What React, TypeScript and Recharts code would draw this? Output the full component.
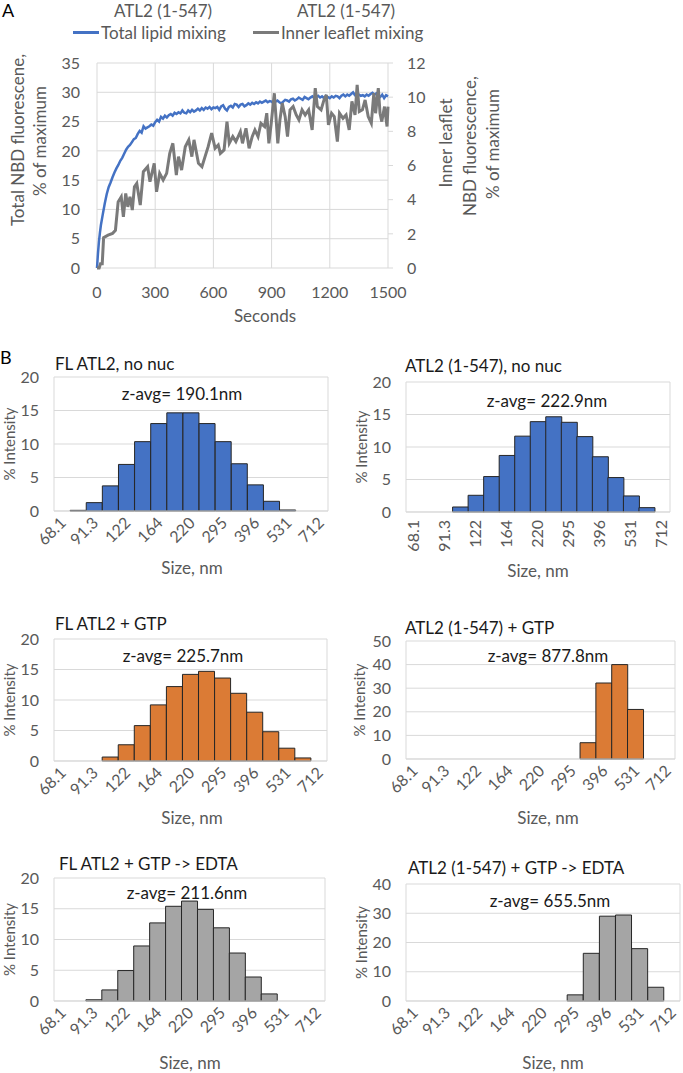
import React from "react";
import {
  LineChart,
  Line,
  BarChart,
  Bar,
  XAxis,
  YAxis,
  CartesianGrid,
  Legend,
  Label,
} from "recharts";

// ---- Panel A: lipid mixing kinetics ----
const totalSeconds = [
  0, 5, 10, 15, 20,
  30, 40, 50, 60, 70, 80, 90, 100,
  110, 120, 130, 140, 150, 160, 170, 180, 190, 200,
  210, 220, 230, 240, 250, 260, 270, 280, 290, 300,
  310, 320, 330, 340, 350, 360, 370, 380, 390, 400,
  410, 420, 430, 440, 450, 460, 470, 480, 490, 500,
  510, 520, 530, 540, 550, 560, 570, 580, 590, 600,
  610, 620, 630, 640, 650, 660, 670, 680, 690, 700,
  710, 720, 730, 740, 750, 760, 770, 780, 790, 800,
  810, 820, 830, 840, 850, 860, 870, 880, 890, 900,
  910, 920, 930, 940, 950, 960, 970, 980, 990, 1000,
  1010, 1020, 1030, 1040, 1050, 1060, 1070, 1080, 1090, 1100,
  1110, 1120, 1130, 1140, 1150, 1160, 1170, 1180, 1190, 1200,
  1210, 1220, 1230, 1240, 1250, 1260, 1270, 1280, 1290, 1300,
  1310, 1320, 1330, 1340, 1350, 1360, 1370, 1380, 1390, 1400,
  1410, 1420, 1430, 1440, 1450, 1460, 1470, 1480, 1490, 1500,
];
const totalPct = [
  0, 2.5, 4.5, 6, 7.3,
  9.2, 11, 12.6, 13.8, 14.6, 15.5, 16.3, 17.0,
  17.6, 18.3, 18.8, 19.5, 20.2, 20.7, 21.0, 21.5, 22.0, 22.2,
  22.9, 23.4, 23.1, 24.2, 23.8, 24.0, 24.2, 24.5, 24.3, 24.9,
  25.3, 25.0, 25.8, 25.5, 26.0, 25.7, 26.1, 26.3, 26.0, 26.5,
  26.3, 26.6, 26.4, 26.9, 26.5, 26.4, 26.9, 26.6, 27.0, 26.7,
  26.9, 27.2, 26.9, 27.3, 27.0, 27.4, 27.2, 27.5, 27.1, 27.4,
  27.3, 27.5, 27.0, 27.6, 27.8, 27.2, 26.9, 27.5, 27.7, 27.4,
  28.0, 27.9, 27.5, 27.9, 28.0, 27.6, 27.8, 28.1, 27.9, 28.2,
  28.0, 28.3, 28.1, 28.4, 28.2, 28.4, 28.6, 28.3, 28.5, 28.4,
  28.1, 28.4, 28.6, 28.3, 28.1, 28.4, 28.7, 28.6, 28.4, 28.8,
  28.9, 28.6, 28.8, 29.1, 28.9, 28.7, 29.2, 29.0, 28.8, 29.1,
  29.3, 29.0, 29.2, 29.4, 29.1, 29.3, 29.0, 29.4, 29.2, 29.0,
  29.3, 29.1, 29.4, 29.3, 29.0, 29.4, 29.6, 29.3, 29.6, 29.4,
  29.7, 30.0, 29.5, 29.3, 29.6, 29.4, 29.5, 29.3, 29.6, 29.4,
  29.7, 29.9, 29.6, 29.8, 29.4, 29.2, 29.6, 29.0, 29.5, 29.3,
];

const innerSeconds = [
  0, 11, 18, 27, 34, 57, 80, 95, 109, 125,
  136, 148, 159, 170, 182, 193, 205, 223, 239, 261,
  273, 295, 307, 323, 341, 359, 375, 391, 409, 420,
  436, 455, 473, 489, 500, 523, 541, 557, 573, 591,
  609, 625, 636, 655, 670, 682, 700, 716, 739, 750,
  768, 784, 800, 814, 830, 845, 864, 875, 886, 898,
  914, 932, 943, 955, 970, 982, 995, 1011, 1027, 1041,
  1057, 1073, 1091, 1109, 1125, 1136, 1155, 1170, 1182, 1193,
  1209, 1223, 1239, 1250, 1268, 1284, 1300, 1314, 1330, 1341,
  1352, 1368, 1382, 1398, 1414, 1427, 1436, 1450, 1459, 1468,
  1482, 1495, 1500,
];
const innerPct = [
  0, 0, 0.25, 0.25, 1.78, 1.92, 2.02, 2.21, 3.87, 4.17,
  2.99, 4.36, 3.58, 4.17, 3.39, 4.76, 4.95, 3.68, 5.64, 5.93,
  5.05, 6.13, 4.46, 5.54, 5.15, 5.54, 6.71, 7.3, 5.44, 6.52,
  5.73, 7.1, 7.5, 6.52, 7.5, 6.13, 5.93, 6.52, 7.1, 7.89,
  7.01, 7.2, 6.71, 6.91, 8.57, 7.3, 7.69, 7.4, 7.98, 7.3,
  8.18, 7.01, 7.69, 8.08, 7.69, 8.47, 8.28, 9.06, 7.3, 8.47,
  10.23, 7.3, 8.67, 9.65, 8.86, 7.69, 9.26, 9.45, 8.96, 8.67,
  9.26, 8.96, 9.26, 8.08, 10.53, 9.45, 9.26, 9.84, 10.14, 8.38,
  9.06, 8.86, 7.4, 9.06, 8.76, 8.96, 8.08, 9.75, 8.96, 10.72,
  9.16, 9.26, 9.84, 8.86, 8.47, 10.23, 9.06, 10.53, 9.06, 8.57,
  9.45, 8.28, 9.45,
];

const secondTicks = [0, 300, 600, 900, 1200, 1500];
const totalTicks = [0, 5, 10, 15, 20, 25, 30, 35];
const innerTicks = [0, 2, 4, 6, 8, 10, 12];
const seriesOrder = ["Total lipid mixing", "Inner leaflet mixing"];

// ---- Panel B: DLS size distributions ----
const sizeBins = [
  "68.1", "78.8", "91.3", "106", "122", "142", "164", "190", "220",
  "255", "295", "342", "396", "459", "531", "615", "712",
];
const flNoNuc = [0, 0.1, 1.25, 3.75, 6.95, 10.35, 13.05, 14.65, 14.65, 13.05, 10.35, 7.05, 3.9, 1.45, 0.15, 0, 0];
const truncNoNuc = [0, 0, 0, 0.77, 2.57, 5.45, 8.7, 11.67, 13.9, 14.65, 13.8, 11.6, 8.5, 5.3, 2.47, 0.67, 0];
const flGtp = [0, 0, 0, 0.65, 2.66, 5.8, 9.2, 12.2, 14.2, 14.7, 13.6, 11.1, 8.0, 4.8, 2.1, 0.5, 0];
const truncGtp = [0, 0, 0, 0, 0, 0, 0, 0, 0, 0, 0, 6.9, 32.2, 40, 21, 0, 0];
const flEdta = [0, 0, 0.2, 1.8, 4.95, 8.95, 12.7, 15.4, 16.25, 14.9, 11.9, 7.8, 3.9, 1.15, 0, 0, 0];
const truncEdta = [0, 0, 0, 0, 0, 0, 0, 0, 0, 0, 2.1, 16.3, 29, 29.4, 17.9, 4.7, 0];

const histTitles = [
  "FL ATL2, no nuc",
  "ATL2 (1-547), no nuc",
  "FL ATL2 + GTP",
  "ATL2 (1-547) + GTP",
  "FL ATL2 + GTP -> EDTA",
  "ATL2 (1-547) + GTP -> EDTA",
];
const zAverages = ["190.1", "222.9", "225.7", "877.8", "211.6", "655.5"];

const BLUE = "#4472C4";
const ORANGE = "#DB7B35";
const GRAY = "#A5A5A5";
const TICK = "#595959";
const GRID = "#D9D9D9";

// page-coordinate layout of each histogram
const panels = [
  { values: flNoNuc, color: BLUE, yMax: 20, ticks: [0, 5, 10, 15, 20], x0: 0, w: 340, top: 340, h: 240, pl: 54, pr: 328, pt: 377, pb: 511, title: [55, 363], z: [182, 393], size: [192, 567], yt: 9, angle: -45 },
  { values: truncNoNuc, color: BLUE, yMax: 20, ticks: [0, 5, 10, 15, 20], x0: 340, w: 343, top: 340, h: 240, pl: 406, pr: 670, pt: 382, pb: 512, title: [405, 365], z: [547, 400], size: [538, 570], yt: 361, angle: -90 },
  { values: flGtp, color: ORANGE, yMax: 20, ticks: [0, 5, 10, 15, 20], x0: 0, w: 340, top: 590, h: 240, pl: 54, pr: 327, pt: 639, pb: 761, title: [55, 623], z: [183, 655], size: [192, 817], yt: 9, angle: -45 },
  { values: truncGtp, color: ORANGE, yMax: 50, ticks: [0, 10, 20, 30, 40, 50], x0: 340, w: 343, top: 590, h: 240, pl: 406, pr: 675, pt: 641, pb: 759, title: [405, 627], z: [548, 655], size: [548, 817], yt: 359, angle: -45 },
  { values: flEdta, color: GRAY, yMax: 20, ticks: [0, 5, 10, 15, 20], x0: 0, w: 340, top: 830, h: 243, pl: 54, pr: 325, pt: 878, pb: 1001, title: [59, 863], z: [187, 892], size: [190, 1062], yt: 9, angle: -45 },
  { values: truncEdta, color: GRAY, yMax: 40, ticks: [0, 10, 20, 30, 40], x0: 340, w: 343, top: 830, h: 243, pl: 406, pr: 680, pt: 884, pb: 1001, title: [408, 867], z: [550, 900], size: [553, 1062], yt: 361, angle: -45 },
];

const FONT = "Lato, 'Open Sans', sans-serif";

const SizeTick = (props: any) => {
  const { x, y, payload, angle } = props;
  if (angle === -90) {
    return (
      <text
        transform={`translate(${x + 5},${y + 8}) rotate(-90)`}
        textAnchor="end"
        fill={TICK}
        fontSize={16}
      >
        {payload.value}
      </text>
    );
  }
  return (
    <text
      transform={`translate(${x + 5},${y + 13}) rotate(-45)`}
      textAnchor="end"
      fill={TICK}
      fontSize={16}
    >
      {payload.value}
    </text>
  );
};

const Histogram = ({ p, idx }: any) => {
  const data = sizeBins.map((s, i) => ({ size: s, v: p.values[i] }));
  const xAxisH = 50;
  const margin = {
    top: p.pt - p.top,
    left: 0,
    right: p.x0 + p.w - p.pr,
    bottom: p.top + p.h - p.pb - xAxisH,
  };
  const plotMid = (p.pt + p.pb) / 2 - p.top;
  return (
    <div style={{ position: "absolute", left: p.x0, top: p.top, width: p.w, height: p.h }}>
      <BarChart width={p.w} height={p.h} data={data} margin={margin} barCategoryGap={0}>
        <CartesianGrid
          stroke={GRID}
          verticalCoordinatesGenerator={({ offset }: any) => [offset.left, offset.left + offset.width]}
        />
        <XAxis
          dataKey="size"
          interval={1}
          height={xAxisH}
          axisLine={{ stroke: GRID }}
          tickLine={false}
          tickSize={0}
          tickMargin={0}
          tick={(tp: any) => <SizeTick {...tp} angle={p.angle} />}
        >
          <Label
            content={() => (
              <text
                x={p.size[0] - p.x0}
                y={p.size[1] - p.top}
                textAnchor="middle"
                dominantBaseline="central"
                fill={TICK}
                fontSize={17}
              >
                Size, nm
              </text>
            )}
          />
        </XAxis>
        <YAxis
          width={p.pl - p.x0}
          domain={[0, p.yMax]}
          ticks={p.ticks}
          axisLine={false}
          tickLine={false}
          tickSize={0}
          tickMargin={15}
          tick={{ fill: TICK, fontSize: 16 }}
        >
          <Label
            content={() => (
              <text
                transform={`translate(${p.yt - p.x0},${plotMid}) rotate(-90)`}
                textAnchor="middle"
                dominantBaseline="central"
                fill={TICK}
                fontSize={15}
              >
                % Intensity
              </text>
            )}
          />
        </YAxis>
        <Bar dataKey="v" fill={p.color} stroke="#262626" strokeWidth={1} isAnimationActive={false} />
      </BarChart>
      <div
        style={{
          position: "absolute",
          left: p.title[0] - p.x0,
          top: p.title[1] - p.top,
          transform: "translateY(-50%)",
          fontSize: 17,
          lineHeight: 1,
          color: "#1a1a1a",
          whiteSpace: "nowrap",
        }}
      >
        {histTitles[idx]}
      </div>
      <div
        style={{
          position: "absolute",
          left: p.z[0] - p.x0,
          top: p.z[1] - p.top,
          transform: "translate(-50%,-50%)",
          fontSize: 17,
          lineHeight: 1,
          color: "#1a1a1a",
          whiteSpace: "nowrap",
        }}
      >
        z-avg= {zAverages[idx]}nm
      </div>
    </div>
  );
};

const LegendContent = (props: any) => {
  const items = [...(props.payload || [])].sort(
    (a: any, b: any) => seriesOrder.indexOf(a.value) - seriesOrder.indexOf(b.value)
  );
  return (
    <div style={{ display: "flex", alignItems: "center", fontSize: 17, color: TICK, whiteSpace: "nowrap" }}>
      {items.map((entry: any, i: number) => (
        <div key={i} style={{ display: "flex", alignItems: "center", marginRight: 27 }}>
          <div style={{ width: 26, height: 3, background: entry.color, marginRight: 2 }} />
          <span>{entry.value}</span>
        </div>
      ))}
    </div>
  );
};

const App = () => {
  const totalData = totalSeconds.map((t, i) => ({ t, v: totalPct[i] }));
  const innerData = innerSeconds.map((t, i) => ({ t, v: innerPct[i] }));

  return (
    <div
      style={{
        position: "absolute",
        left: 0,
        top: 0,
        width: 683,
        height: 1073,
        background: "#fff",
        fontFamily: FONT,
        overflow: "hidden",
      }}
    >
      <div style={{ position: "absolute", left: 2, top: 1, fontSize: 18, lineHeight: 1, color: "#000" }}>A</div>
      <div style={{ position: "absolute", left: 163, top: 10, transform: "translate(-50%,-50%)", fontSize: 17, lineHeight: 1, color: TICK, whiteSpace: "nowrap" }}>
        ATL2 (1-547)
      </div>
      <div style={{ position: "absolute", left: 346, top: 10, transform: "translate(-50%,-50%)", fontSize: 17, lineHeight: 1, color: TICK, whiteSpace: "nowrap" }}>
        ATL2 (1-547)
      </div>

      <div style={{ position: "absolute", left: 0, top: 0 }}>
        <LineChart width={683} height={330} margin={{ top: 63, right: 235, bottom: 2, left: 0 }}>
          <CartesianGrid stroke={GRID} yAxisId="total" />
          <XAxis
            type="number"
            dataKey="t"
            domain={[0, 1500]}
            ticks={secondTicks}
            axisLine={false}
            tickLine={false}
            tickSize={0}
            tickMargin={19}
            height={60}
            tick={{ fill: TICK, fontSize: 16 }}
          >
            <Label
              content={() => (
                <text x={265} y={315} textAnchor="middle" dominantBaseline="central" fill={TICK} fontSize={17}>
                  Seconds
                </text>
              )}
            />
          </XAxis>
          <YAxis
            yAxisId="total"
            domain={[0, 35]}
            ticks={totalTicks}
            width={97}
            axisLine={false}
            tickLine={false}
            tickSize={0}
            tickMargin={17}
            tick={{ fill: TICK, fontSize: 16 }}
          >
            <Label
              content={() => (
                <g fill={TICK} fontSize={17}>
                  <text transform="translate(17,140) rotate(-90)" textAnchor="middle" dominantBaseline="central">
                    Total NBD fluorescene,
                  </text>
                  <text transform="translate(39,141) rotate(-90)" textAnchor="middle" dominantBaseline="central">
                    % of maximum
                  </text>
                </g>
              )}
            />
          </YAxis>
          <YAxis
            yAxisId="inner"
            orientation="right"
            domain={[0, 12]}
            ticks={innerTicks}
            width={60}
            axisLine={false}
            tickLine={{ stroke: GRID }}
            tickSize={5}
            tickMargin={14}
            tick={{ fill: TICK, fontSize: 16, textAnchor: "start" }}
          >
            <Label
              content={() => (
                <g fill={TICK} fontSize={17}>
                  <text transform="translate(445,143) rotate(-90)" textAnchor="middle" dominantBaseline="central">
                    Inner leaflet
                  </text>
                  <text transform="translate(469,146) rotate(-90)" textAnchor="middle" dominantBaseline="central">
                    NBD fluorescence,
                  </text>
                  <text transform="translate(492,144) rotate(-90)" textAnchor="middle" dominantBaseline="central">
                    % of maximum
                  </text>
                </g>
              )}
            />
          </YAxis>
          <Legend
            verticalAlign="middle"
            align="center"
            layout="horizontal"
            wrapperStyle={{ position: "absolute", left: 73, top: 22, width: 420, height: 22 }}
            content={<LegendContent />}
          />
          <Line
            yAxisId="total"
            data={totalData}
            dataKey="v"
            name="Total lipid mixing"
            stroke={BLUE}
            strokeWidth={2.5}
            dot={false}
            isAnimationActive={false}
          />
          <Line
            yAxisId="inner"
            data={innerData}
            dataKey="v"
            name="Inner leaflet mixing"
            stroke="#7A7A7A"
            strokeWidth={3}
            dot={false}
            isAnimationActive={false}
          />
        </LineChart>
      </div>

      <div style={{ position: "absolute", left: 0, top: 348, fontSize: 18, lineHeight: 1, color: "#000" }}>B</div>
      {panels.map((p, i) => (
        <Histogram key={i} p={p} idx={i} />
      ))}
    </div>
  );
};

export default App;
